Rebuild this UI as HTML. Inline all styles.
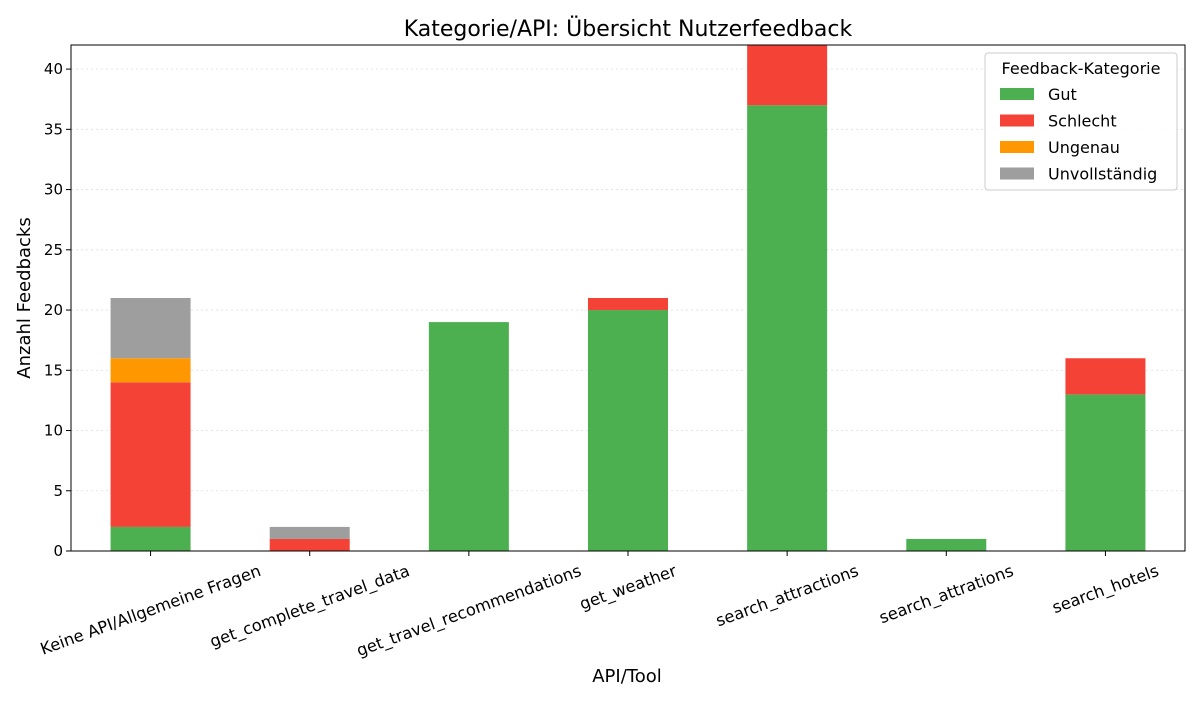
<!DOCTYPE html>
<html><head><meta charset="utf-8"><style>
body{margin:0;background:#fff;font-family:"Liberation Sans","DejaVu Sans",sans-serif}
svg text{font-family:"DejaVu Sans","Liberation Sans",sans-serif;fill:#000}
</style></head><body>
<svg id="chart" width="1200" height="700">
<text x="628" y="36" font-size="22" text-anchor="middle">Kategorie/API: Übersicht Nutzerfeedback</text>
<text x="627" y="682" font-size="18" text-anchor="middle">API/Tool</text>
<text transform="translate(30,298) rotate(-90)" font-size="18" text-anchor="middle">Anzahl Feedbacks</text>
<g id="grid"></g><g id="bars"></g><g id="axes"></g>
<rect x="71" y="45" width="1114" height="506" fill="none" stroke="#000" stroke-width="1"/>
<g id="legend">
<rect x="985" y="53" width="192" height="137" rx="3" fill="#fff" fill-opacity="0.85" stroke="#ccc"/>
<text x="1081" y="74" font-size="16" text-anchor="middle">Feedback-Kategorie</text>
</g>
</svg>
<script>
const categories=["Keine API/Allgemeine Fragen","get_complete_travel_data","get_travel_recommendations","get_weather","search_attractions","search_attrations","search_hotels"];
const seriesNames=["Gut","Schlecht","Ungenau","Unvollständig"];
const gut=[2,0,19,20,37,1,13];
const schlecht=[12,1,0,1,5,0,3];
const ungenau=[2,0,0,0,0,0,0];
const unvollstaendig=[5,1,0,0,0,0,0];
const yTicks=[0,5,10,15,20,25,30,35,40];
const colors=["#4caf50","#f44336","#ff9800","#9e9e9e"];
const NS="http://www.w3.org/2000/svg";
const L=71,R=1185,T=45,B=551,yMax=42;
const y=v=>B-(v/yMax)*(B-T);
const step=(R-L)/categories.length;
const x=i=>L+step*(i+0.5);
const bw=80;
function mk(tag,attrs,parent){const e=document.createElementNS(NS,tag);for(const k in attrs)e.setAttribute(k,attrs[k]);parent.appendChild(e);return e;}
const grid=document.getElementById('grid'),axes=document.getElementById('axes'),bars=document.getElementById('bars');
yTicks.forEach(t=>{
 const g=mk('line',{x1:L,x2:R,y1:y(t),y2:y(t),stroke:'#ddd','stroke-dasharray':'2,3','stroke-width':0.8},grid);
 
 
 const tk=mk('line',{x1:L-5,x2:L,y1:y(t),y2:y(t),stroke:'#000'},axes);
 
 
 const tx=mk('text',{x:L-8,y:y(t)+5,'font-size':15,'text-anchor':'end'},axes);
 tx.textContent=t;
 
 
});
const series=[gut,schlecht,ungenau,unvollstaendig];
const ang=20*Math.PI/180;
categories.forEach((c,i)=>{
 let base=0;
 series.forEach((s,k)=>{
  const v=s[i];
  if(v>0){
   const r=mk('rect',{x:x(i)-bw/2,y:y(Math.min(base+v,yMax)),width:bw,height:y(base)-y(Math.min(base+v,yMax)),fill:colors[k]},bars);
   
   
  }
  base+=v;
 });
 const tk=mk('line',{x1:x(i),x2:x(i),y1:B,y2:B+5,stroke:'#000'},axes);
 
 
 const tx=mk('text',{'font-size':16.3,'text-anchor':'middle','dominant-baseline':'central'},axes);
 tx.textContent=c;
 
 
 const w=tx.getComputedTextLength();
 const h=w*Math.sin(ang)+17*Math.cos(ang);
 tx.setAttribute('transform',`translate(${x(i)},${B+11+h/2}) rotate(-20)`);
});
const lg=document.getElementById('legend');
seriesNames.forEach((n,k)=>{
 const yy=94+k*26.5;
 const r=mk('rect',{x:1000,y:yy-6,width:34,height:12,fill:colors[k]},lg);
 
 
 const t=mk('text',{x:1048,y:yy+6,'font-size':16},lg);
 t.textContent=n;
 
 
});
</script>
</body></html>
